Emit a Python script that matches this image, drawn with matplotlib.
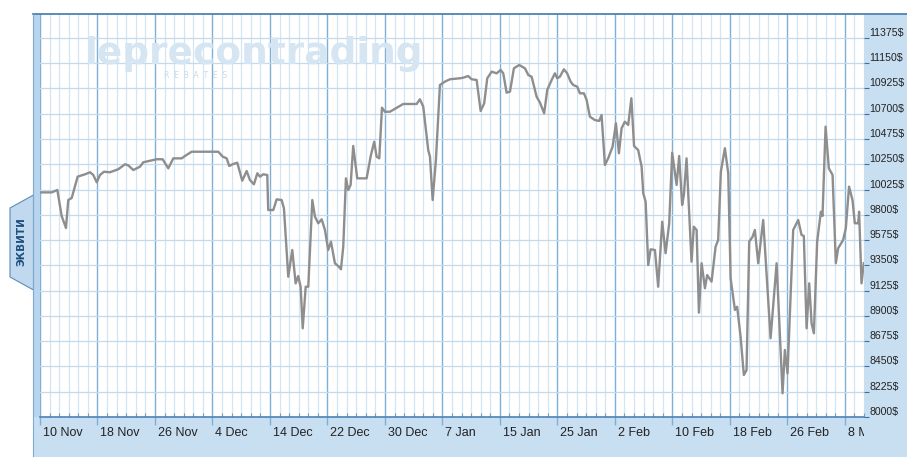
import matplotlib
matplotlib.use("Agg")
import matplotlib.pyplot as plt
from matplotlib.patches import Rectangle, Polygon
from matplotlib.transforms import Bbox, TransformedBbox, ScaledTranslation

# equity curve, x in bar units (6 bars between date labels)
bar = [0, 1.22, 1.81, 2.26, 2.71, 2.95, 3.31, 3.93, 4.70, 5.22,
       5.56, 5.92, 6.26, 6.68, 7.30, 8.17, 8.87, 9.21, 9.74, 10.44,
       10.78, 11.48, 12.18, 12.80, 13.39, 13.91, 14.79, 15.13, 15.83, 18.61,
       19.07, 19.48, 19.75, 20.17, 20.59, 21.11, 21.57, 21.91, 22.33, 22.68,
       22.96, 23.30, 23.72, 23.82, 24.35, 24.70, 25.22, 25.46, 25.91, 26.33,
       26.68, 26.95, 27.20, 27.42, 27.73, 28.00, 28.42, 28.70, 29.04, 29.40,
       29.74, 30.08, 30.37, 30.78, 31.20, 31.41, 31.65, 31.93, 32.17, 32.42,
       32.69, 33.11, 34.09, 34.54, 34.88, 35.13, 35.41, 35.69, 36.00, 36.52,
       37.91, 39.31, 39.65, 40.00, 40.52, 40.70, 40.98, 41.32, 41.74, 42.26,
       42.78, 43.83, 44.17, 44.69, 45.05, 45.57, 45.99, 46.36, 46.68, 47.14,
       47.66, 48.08, 48.35, 48.70, 49.05, 49.46, 50.02, 50.61, 50.96, 51.31,
       51.83, 52.18, 52.62, 52.94, 53.40, 53.74, 53.98, 54.26, 54.68, 55.02,
       55.38, 55.65, 56.07, 56.35, 56.77, 57.05, 57.39, 57.91, 58.36, 58.61,
       58.96, 59.30, 59.76, 60.11, 60.42, 60.70, 61.04, 61.39, 61.72, 62.00,
       62.43, 62.79, 62.96, 63.21, 63.48, 63.73, 64.18, 64.52, 64.94, 65.29,
       65.67, 65.98, 66.44, 66.71, 67.02, 67.20, 67.48, 68.00, 68.24, 68.53,
       68.77, 69.05, 69.40, 69.63, 70.09, 70.51, 70.78, 71.06, 71.48, 71.83,
       72.08, 72.53, 72.76, 73.12, 73.46, 73.74, 74.02, 74.37, 74.61, 74.96,
       75.48, 76.25, 76.88, 77.50, 77.74, 78.02, 78.61, 79.13, 79.48, 79.72,
       80.01, 80.28, 80.53, 80.77, 81.11, 81.50, 81.67, 81.99, 82.33, 82.72,
       83.06, 83.30, 83.82, 84.10, 84.44, 84.80, 85.04, 85.39, 85.49, 85.74,
       85.98]
equity = [10000, 10000, 10021, 9790, 9683, 9932, 9950, 10140, 10161, 10179,
          10155, 10090, 10155, 10184, 10179, 10206, 10250, 10241, 10199, 10229,
          10268, 10282, 10295, 10295, 10214, 10303, 10303, 10324, 10362, 10362,
          10318, 10303, 10235, 10253, 10264, 10104, 10190, 10110, 10072, 10170,
          10140, 10161, 10155, 9843, 9843, 9938, 9932, 9858, 9249, 9487,
          9190, 9255, 9160, 8790, 9160, 9160, 9932, 9783, 9725, 9760,
          9665, 9487, 9561, 9369, 9338, 9315, 9516, 10125, 10021, 10066,
          10413, 10125, 10125, 10333, 10451, 10318, 10303, 10754, 10718, 10718,
          10787, 10787, 10829, 10763, 10377, 10318, 9932, 10288, 10956, 10986,
          11007, 11016, 11021, 11036, 11007, 11001, 10725, 10793, 11016, 11075,
          11060, 11090, 11060, 10888, 10897, 11105, 11134, 11105, 11045, 11030,
          10852, 10799, 10704, 10912, 11001, 11060, 11016, 11030, 11096, 11060,
          10986, 10956, 10941, 10882, 10882, 10823, 10674, 10644, 10636, 10689,
          10244, 10303, 10407, 10615, 10348, 10571, 10629, 10600, 10838, 10413,
          10377, 10229, 9992, 9917, 9353, 9493, 9487, 9160, 9739, 9458,
          9725, 10353, 10066, 10324, 9888, 9977, 10303, 9383, 9694, 9665,
          8929, 9369, 9146, 9264, 9205, 9516, 9576, 10184, 10393, 10170,
          9235, 8953, 8982, 8715, 8374, 8418, 9561, 9605, 9665, 9369,
          9754, 8701, 9369, 8211, 8597, 8389, 9665, 9754, 9621, 9612,
          8790, 9190, 8834, 8745, 9561, 9828, 9790, 10585, 10214, 10155,
          9369, 9502, 9576, 9680, 10051, 9932, 9725, 9725, 9828, 9190,
          9369]

date_labels = ['10 Nov', '18 Nov', '26 Nov', '4 Dec', '14 Dec', '22 Dec', '30 Dec',
               '7 Jan', '15 Jan', '25 Jan', '2 Feb', '10 Feb', '18 Feb', '26 Feb', '8 Mar']
date_pos = [6 * i for i in range(len(date_labels))]
y_levels = [8000 + 225 * k for k in range(16)]

W, H = 907, 457
panel = '#c8dff2'
fig = plt.figure(figsize=(W / 100, H / 100), dpi=100, facecolor='white')

def fx(px):
    return px / W

def fy(py):
    return 1 - py / H

# frame pieces around the plot
fig.patches.append(Rectangle((fx(33), 0), fx(W - 33), 40 / H, transform=fig.transFigure,
                             facecolor=panel, edgecolor='none', zorder=-2))
fig.patches.append(Rectangle((fx(864), fy(417)), fx(W - 864), (417 - 14) / H,
                             transform=fig.transFigure, facecolor=panel, edgecolor='none', zorder=-2))
fig.patches.append(Rectangle((fx(33), fy(417)), fx(7), (417 - 14) / H,
                             transform=fig.transFigure, facecolor='#b9d5ee', edgecolor='none', zorder=-2))
fig.lines.append(plt.Line2D([fx(33), 1], [fy(13.5), fy(13.5)], transform=fig.transFigure,
                            color='#4d82b2', lw=1.3))
fig.lines.append(plt.Line2D([fx(33), fx(33)], [0, fy(13.5)], transform=fig.transFigure,
                            color='#7fa9cf', lw=0.8))
tab = Polygon([(fx(33.5), fy(195)), (fx(10), fy(208)), (fx(10), fy(277)), (fx(33.5), fy(290))],
              closed=True, transform=fig.transFigure, facecolor='#c0d9ef', edgecolor='#5b8cba',
              lw=0.8, zorder=1)
fig.patches.append(tab)
fig.text(fx(21.5), fy(242), 'ЭКВИТИ', rotation=90, ha='center', va='center',
         fontsize=7.5, fontweight='bold', color='#1f4f7e', family='DejaVu Sans')

ax = fig.add_axes([fx(40), fy(417), fx(864 - 40), (417 - 14) / H])
ax.set_facecolor('white')

# watermark
ax.text(0.055, 0.875, 'leprecontrading', transform=ax.transAxes, fontsize=27,
        fontweight='bold', color='#d6e5f2', zorder=1, family='DejaVu Sans')
ax.text(0.15, 0.84, 'R  E  B  A  T  E  S', transform=ax.transAxes, fontsize=5.5,
        color='#c9dcee', zorder=1)

ax.plot(bar, equity, color='#8e8e8e', lw=1.7, zorder=3, solid_joinstyle='round')

ax.set_xlim(0, 86)
ax.set_ylim(8000, 8000 + (417 - 14) * 225 / 25.27)

ax.set_axisbelow(True)
ax.set_xticks(date_pos, date_labels)
ax.set_xticks(range(0, 87), minor=True)
ax.set_yticks(y_levels, [f'{v}$' for v in y_levels])
ax.yaxis.tick_right()

ax.grid(axis='x', which='major', color='#7eafd7', lw=1.0)
ax.grid(axis='x', which='minor', color='#d3e4f3', lw=0.9)
ax.grid(axis='y', which='major', color='#c3d9ec', lw=0.9)

ax.tick_params(axis='x', which='major', direction='out', length=6, width=1,
               color='#7eafd7', pad=1.5, labelsize=9, labelcolor='#222222')
ax.tick_params(axis='x', which='minor', direction='in', length=3, width=0.8,
               color='#6f9fc9')
ax.tick_params(axis='y', which='major', direction='out', length=3.5, width=0.8,
               color='#3f6f9c', pad=0.5, labelsize=7.6, labelcolor='#222222')

clip = TransformedBbox(Bbox([[0.33, 0], [8.64, 4.57]]), fig.dpi_scale_trans)
for lab in ax.get_xticklabels():
    lab.set_ha('left')
    lab.set_family(['Liberation Sans', 'DejaVu Sans'])
    lab.set_transform(lab.get_transform() + ScaledTranslation(0.03, 0, fig.dpi_scale_trans))
    lab.set_clip_box(clip)
    lab.set_clip_on(True)
for lab in ax.get_yticklabels():
    lab.set_family(['Liberation Sans', 'DejaVu Sans'])
    lab.set_transform(lab.get_transform() + ScaledTranslation(0, 0.06, fig.dpi_scale_trans))

for side in ['left', 'right', 'top']:
    ax.spines[side].set_visible(False)
ax.spines['bottom'].set_color('#4d82b2')
ax.spines['bottom'].set_linewidth(1.2)

fig.savefig('out.png', dpi=100, facecolor='white')
